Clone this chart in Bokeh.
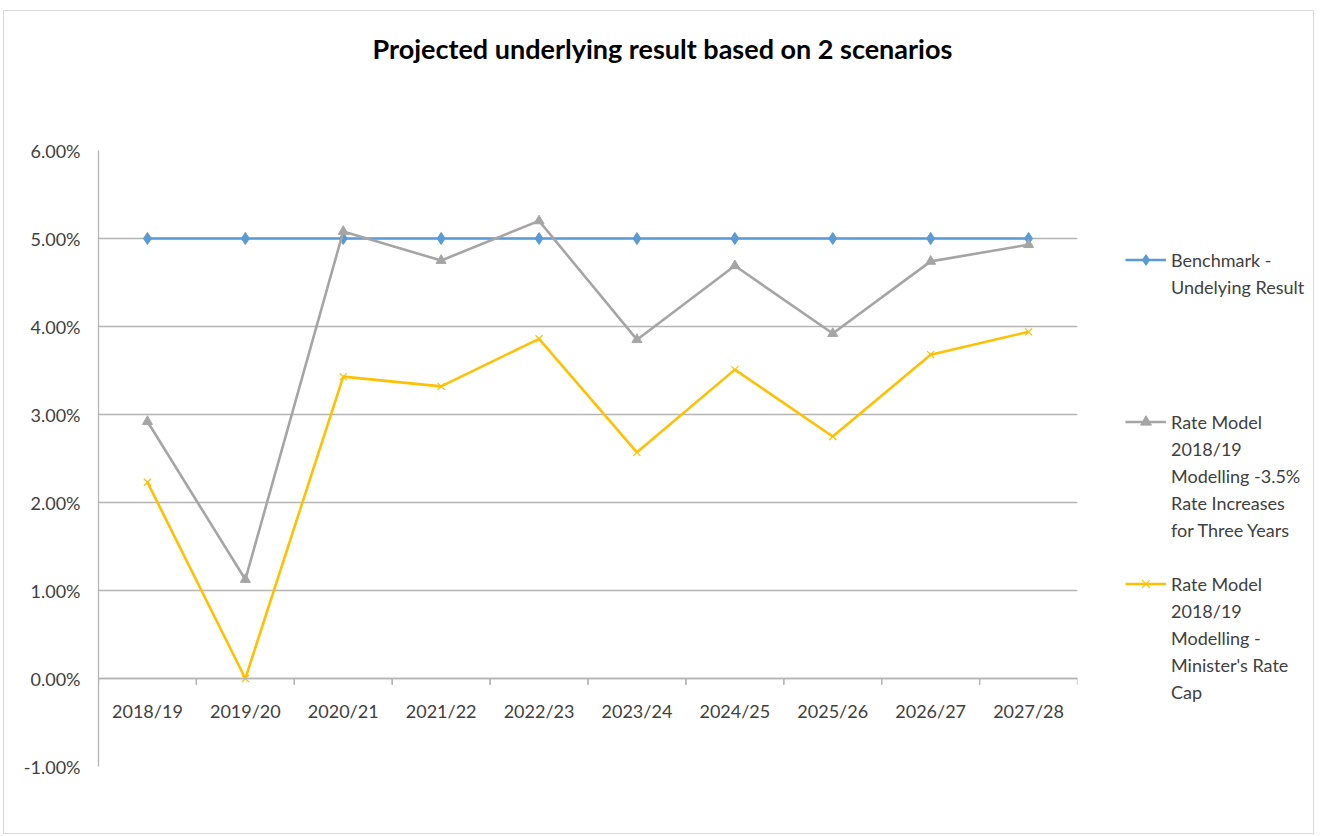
from bokeh.plotting import figure
from bokeh.models import (FactorRange, Range1d, FixedTicker, NumeralTickFormatter,
                          Legend, LegendItem, ColumnDataSource)
from bokeh.transform import dodge
from bokeh.embed import file_html
from bokeh.resources import INLINE

categories = ["2018/19", "2019/20", "2020/21", "2021/22", "2022/23",
              "2023/24", "2024/25", "2025/26", "2026/27", "2027/28"]
benchmark = [0.05, 0.05, 0.05, 0.05, 0.05, 0.05, 0.05, 0.05, 0.05, 0.05]
rate_increase = [0.0292, 0.01125, 0.0508, 0.0475, 0.0520, 0.0385, 0.0469, 0.0392, 0.0474, 0.0493]
rate_cap = [0.0223, 0.0000, 0.0343, 0.0332, 0.0386, 0.0257, 0.0351, 0.0275, 0.0368, 0.0394]
y_ticks = [-0.01, 0.0, 0.01, 0.02, 0.03, 0.04, 0.05, 0.06]

series_lines = [["Benchmark -", "Undelying Result"],
                ["Rate Model", "2018/19", "Modelling -3.5%", "Rate Increases", "for Three Years"],
                ["Rate Model", "2018/19", "Modelling -", "Minister's Rate", "Cap"]]
# empty legend rows after each series (Excel spreads the entries)
gap_rows = [4, 1, 0]

FONT = "Lato"
TXT = "#404040"
GRID = "#b4b4b4"

p = figure(frame_width=979, frame_height=616, x_range=FactorRange(*categories),
           y_range=Range1d(-0.01, 0.06), output_backend="svg", toolbar_location=None,
           min_border_left=94, min_border_right=238, min_border_top=139, min_border_bottom=67)
p.styles = {"margin-left": "3px", "margin-top": "10px", "border": "1px solid #d9d9d9",
            "max-width": "1311px", "overflow": "hidden"}
p.outline_line_color = None
p.background_fill_color = "white"
p.border_fill_color = "white"

# trailing blank lines lift the title up into the top margin
p.title.text = "Projected underlying result based on 2 scenarios\n\n"
p.title.align = "left"
p.title.vertical_align = "top"
p.title.text_font = FONT
p.title.text_font_size = "27px"
p.title.text_font_style = "bold"
p.title.text_color = "#000000"
p.title.offset = 274
p.title.standoff = 36

# y axis
p.yaxis.ticker = FixedTicker(ticks=y_ticks)
p.yaxis.formatter = NumeralTickFormatter(format="0.00%")
p.yaxis.major_tick_line_color = None
p.yaxis.minor_tick_line_color = None
p.yaxis.axis_line_color = GRID
p.yaxis.axis_line_width = 1.3
p.yaxis.major_label_text_font = FONT
p.yaxis.major_label_text_font_size = "18px"
p.yaxis.major_label_text_color = TXT
p.yaxis.major_label_standoff = 12

p.ygrid.ticker = FixedTicker(ticks=y_ticks)
p.ygrid.grid_line_color = GRID
p.ygrid.grid_line_width = 1.3
p.xgrid.grid_line_color = None

# x axis crossing at 0
p.xaxis.fixed_location = 0
p.xaxis.major_tick_line_color = None
p.xaxis.minor_tick_line_color = None
p.xaxis.axis_line_color = GRID
p.xaxis.axis_line_width = 1.3
p.xaxis.major_label_text_font = FONT
p.xaxis.major_label_text_font_size = "18px"
p.xaxis.major_label_text_color = TXT
p.xaxis.major_label_standoff = 15

# category boundary tick marks
tick_src = ColumnDataSource(dict(cat=categories, y0=[0.0] * len(categories),
                                 y1=[-0.0007] * len(categories)))
p.segment(x0=dodge("cat", -0.5, range=p.x_range), x1=dodge("cat", -0.5, range=p.x_range),
          y0="y0", y1="y1", source=tick_src, line_color=GRID, line_width=1.3)
p.segment(x0=dodge("cat", 0.5, range=p.x_range), x1=dodge("cat", 0.5, range=p.x_range),
          y0="y0", y1="y1", source=tick_src, line_color=GRID, line_width=1.3)

BLUE = "#5b9bd5"
GRAY = "#a5a5a5"
GOLD = "#ffc000"

l1 = p.line(categories, benchmark, line_color=BLUE, line_width=2.6)
m1 = p.scatter(categories, benchmark, marker="diamond", size=12, color=BLUE)
l2 = p.line(categories, rate_increase, line_color=GRAY, line_width=2.6)
m2 = p.scatter(categories, rate_increase, marker="triangle", size=10, color=GRAY)
l3 = p.line(categories, rate_cap, line_color=GOLD, line_width=2.6)
m3 = p.scatter(categories, rate_cap, marker="x", size=10, line_color=GOLD, line_width=1.2)

# invisible renderer used for legend continuation rows (no data, no ink)
blank = p.line(x=[], y=[], line_alpha=0)

items = []
for lines, rends, gaps in zip(series_lines, [[l1, m1], [l2, m2], [l3, m3]], gap_rows):
    items.append(LegendItem(label=lines[0], renderers=rends))
    for t in lines[1:]:
        items.append(LegendItem(label=t, renderers=[blank]))
    for _ in range(gaps):
        items.append(LegendItem(label=" ", renderers=[blank]))

legend = Legend(items=items, location=(48, 61), orientation="vertical", ncols=1,
                border_line_color=None, background_fill_alpha=0,
                label_text_font=FONT, label_text_font_size="18px", label_text_color=TXT,
                glyph_width=41, glyph_height=27, label_height=27,
                label_standoff=5, spacing=0, padding=0, margin=0)
p.add_layout(legend, "right")

open("out.html", "w").write(file_html(p, INLINE))
